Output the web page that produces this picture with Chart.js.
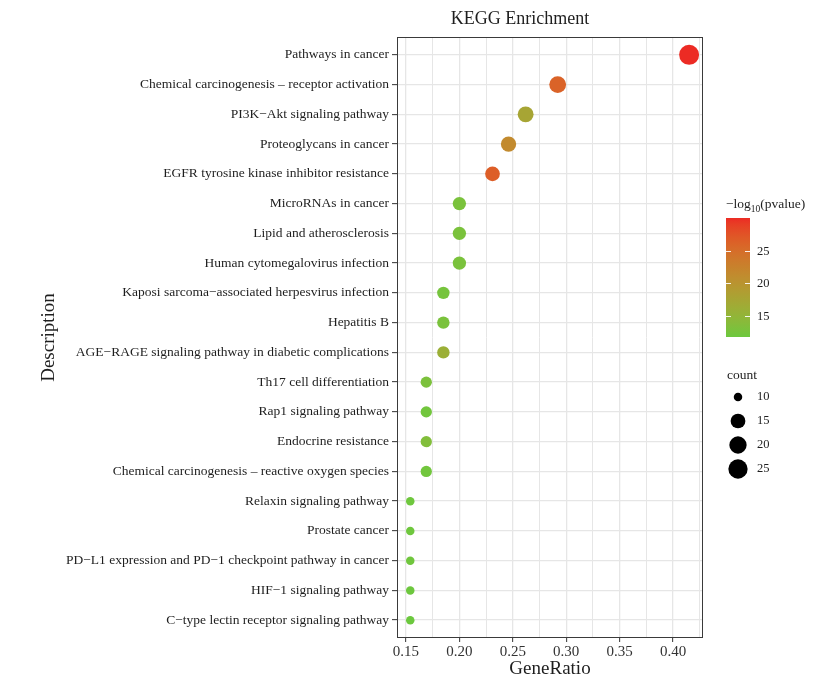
<!DOCTYPE html>
<html>
<head>
<meta charset="utf-8">
<title>KEGG Enrichment</title>
<script src="https://cdn.jsdelivr.net/npm/chart.js@4.4.1/dist/chart.umd.min.js"></script>
<style>
  html, body { margin: 0; padding: 0; background: #ffffff; }
  canvas { display: block; }
</style>
</head>
<body>
<canvas id="dotplot" width="837" height="680"></canvas>
<script>
// KEGG pathways, listed top to bottom
const descriptions = [
  "Pathways in cancer",
  "Chemical carcinogenesis \u2013 receptor activation",
  "PI3K\u2212Akt signaling pathway",
  "Proteoglycans in cancer",
  "EGFR tyrosine kinase inhibitor resistance",
  "MicroRNAs in cancer",
  "Lipid and atherosclerosis",
  "Human cytomegalovirus infection",
  "Kaposi sarcoma\u2212associated herpesvirus infection",
  "Hepatitis B",
  "AGE\u2212RAGE signaling pathway in diabetic complications",
  "Th17 cell differentiation",
  "Rap1 signaling pathway",
  "Endocrine resistance",
  "Chemical carcinogenesis \u2013 reactive oxygen species",
  "Relaxin signaling pathway",
  "Prostate cancer",
  "PD\u2212L1 expression and PD\u22121 checkpoint pathway in cancer",
  "HIF\u22121 signaling pathway",
  "C\u2212type lectin receptor signaling pathway"
];

const geneRatio = [0.415, 0.292, 0.262, 0.246, 0.231, 0.200, 0.200, 0.200, 0.185, 0.185,
                   0.185, 0.169, 0.169, 0.169, 0.169, 0.154, 0.154, 0.154, 0.154, 0.154];

const geneCount = [27, 19, 17, 16, 15, 13, 13, 13, 12, 12,
                   12, 11, 11, 11, 11, 10, 10, 10, 10, 10];

const negLog10P = [30.0, 26.0, 17.5, 21.5, 26.5, 12.8, 12.8, 12.8, 12.5, 12.8,
                   16.0, 13.0, 12.2, 13.5, 12.2, 12.0, 12.0, 12.1, 11.9, 11.8];

const xMajorTicks = [0.15, 0.20, 0.25, 0.30, 0.35, 0.40];
const xMinorTicks = [0.175, 0.225, 0.275, 0.325, 0.375, 0.425];
const colorbarTicks = [15, 20, 25];
const sizeLegendCounts = [10, 15, 20, 25];

const SERIF = "'Liberation Serif', 'DejaVu Serif', 'Times New Roman', serif";
const LOW_COLOR = "#6CC83E";
const HIGH_COLOR = "#EC2B24";
const TEXT_COLOR = "#1E1E1E";

// ---- colour scale (interpolated in CIE Lab) ----
function hexToRgb(h) { return [parseInt(h.slice(1, 3), 16), parseInt(h.slice(3, 5), 16), parseInt(h.slice(5, 7), 16)]; }
function srgbToLin(c) { c /= 255; return c <= 0.04045 ? c / 12.92 : Math.pow((c + 0.055) / 1.055, 2.4); }
function linToSrgb(c) {
  const v = c <= 0.0031308 ? 12.92 * c : 1.055 * Math.pow(c, 1 / 2.4) - 0.055;
  return Math.round(Math.max(0, Math.min(1, v)) * 255);
}
function rgbToLab(rgb) {
  const [r, g, b] = rgb.map(srgbToLin);
  const X = (0.4124 * r + 0.3576 * g + 0.1805 * b) / 0.95047;
  const Y = (0.2126 * r + 0.7152 * g + 0.0722 * b);
  const Z = (0.0193 * r + 0.1192 * g + 0.9505 * b) / 1.08883;
  const f = t => t > 0.008856 ? Math.cbrt(t) : 7.787 * t + 16 / 116;
  const fx = f(X), fy = f(Y), fz = f(Z);
  return [116 * fy - 16, 500 * (fx - fy), 200 * (fy - fz)];
}
function labToRgb(lab) {
  const [L, a, b] = lab;
  const fy = (L + 16) / 116, fx = fy + a / 500, fz = fy - b / 200;
  const fi = t => t * t * t > 0.008856 ? t * t * t : (t - 16 / 116) / 7.787;
  const X = fi(fx) * 0.95047, Y = fi(fy), Z = fi(fz) * 1.08883;
  const r = 3.2406 * X - 1.5372 * Y - 0.4986 * Z;
  const g = -0.9689 * X + 1.8758 * Y + 0.0415 * Z;
  const bb = 0.0557 * X - 0.2040 * Y + 1.0570 * Z;
  return [linToSrgb(r), linToSrgb(g), linToSrgb(bb)];
}
const LAB_LOW = rgbToLab(hexToRgb(LOW_COLOR));
const LAB_HIGH = rgbToLab(hexToRgb(HIGH_COLOR));
const pMin = Math.min(...negLog10P);
const pMax = Math.max(...negLog10P);
function colorAtFraction(t) {
  t = Math.max(0, Math.min(1, t));
  const lab = LAB_LOW.map((v, k) => v + (LAB_HIGH[k] - v) * t);
  const [r, g, b] = labToRgb(lab);
  return `rgb(${r},${g},${b})`;
}
function colorFor(v) { return colorAtFraction((v - pMin) / (pMax - pMin)); }

// ---- size scale: area proportional to count ----
const cMin = Math.min(...geneCount);
const cMax = Math.max(...geneCount);
const D_MIN = 8.5, D_MAX = 20;
function radiusFor(c) {
  const t = Math.max(0, (c - cMin) / (cMax - cMin));
  return (D_MIN + Math.sqrt(t) * (D_MAX - D_MIN)) / 2;
}

const isMajor = v => xMajorTicks.some(m => Math.abs(m - v) < 1e-9);

// panel border, title and the two legends
const decorations = {
  id: 'decorations',
  afterDraw(chart) {
    const { ctx, chartArea: a } = chart;
    ctx.save();

    // panel border
    ctx.strokeStyle = '#3a3a3a';
    ctx.lineWidth = 1;
    ctx.strokeRect(a.left + 0.5, a.top + 0.5, a.right - a.left - 1, a.bottom - a.top - 1);

    // plot title
    ctx.fillStyle = TEXT_COLOR;
    ctx.font = `18px ${SERIF}`;
    ctx.textAlign = 'center';
    ctx.textBaseline = 'middle';
    ctx.fillText('KEGG Enrichment', 520, 19);

    // colour bar legend
    const barX = 726, barW = 24, barTop = 218, barBottom = 337;
    ctx.textAlign = 'left';
    ctx.textBaseline = 'alphabetic';
    ctx.font = `13.5px ${SERIF}`;
    let tx = 726;
    const ty = 208;
    ctx.fillText('\u2212log', tx, ty);
    tx += ctx.measureText('\u2212log').width;
    ctx.font = `9.5px ${SERIF}`;
    ctx.fillText('10', tx, ty + 3.5);
    tx += ctx.measureText('10').width;
    ctx.font = `13.5px ${SERIF}`;
    ctx.fillText('(pvalue)', tx, ty);

    const grad = ctx.createLinearGradient(0, barBottom, 0, barTop);
    for (let i = 0; i <= 20; i++) grad.addColorStop(i / 20, colorAtFraction(i / 20));
    ctx.fillStyle = grad;
    ctx.fillRect(barX, barTop, barW, barBottom - barTop);

    const yOf = v => barBottom - (v - pMin) / (pMax - pMin) * (barBottom - barTop);
    ctx.strokeStyle = 'rgba(255,255,255,0.9)';
    ctx.lineWidth = 1;
    ctx.font = `12.5px ${SERIF}`;
    ctx.textBaseline = 'middle';
    colorbarTicks.forEach(v => {
      const y = Math.round(yOf(v)) + 0.5;
      ctx.beginPath();
      ctx.moveTo(barX, y); ctx.lineTo(barX + 5, y);
      ctx.moveTo(barX + barW - 5, y); ctx.lineTo(barX + barW, y);
      ctx.stroke();
      ctx.fillStyle = TEXT_COLOR;
      ctx.fillText(String(v), 757, y);
    });

    // size legend
    ctx.fillStyle = TEXT_COLOR;
    ctx.font = `13.5px ${SERIF}`;
    ctx.fillText('count', 727, 375);
    const keyY = [397, 421, 445, 469];
    sizeLegendCounts.forEach((c, i) => {
      ctx.fillStyle = '#000000';
      ctx.beginPath();
      ctx.arc(738, keyY[i], radiusFor(c), 0, Math.PI * 2);
      ctx.fill();
      ctx.fillStyle = TEXT_COLOR;
      ctx.font = `12.5px ${SERIF}`;
      ctx.fillText(String(c), 757, keyY[i]);
    });

    ctx.restore();
  }
};

new Chart(document.getElementById('dotplot'), {
  type: 'scatter',
  data: {
    datasets: [{
      label: 'GeneRatio',
      data: geneRatio.map((g, i) => ({ x: g, y: i })),
      pointRadius: ctx => radiusFor(geneCount[ctx.dataIndex]),
      pointHoverRadius: ctx => radiusFor(geneCount[ctx.dataIndex]),
      backgroundColor: ctx => colorFor(negLog10P[ctx.dataIndex]),
      borderWidth: 0,
      pointBorderWidth: 0
    }]
  },
  options: {
    responsive: false,
    animation: false,
    devicePixelRatio: 1,
    layout: { padding: { top: 37, right: 134, bottom: 0, left: 0 } },
    plugins: {
      legend: { display: false },
      tooltip: { enabled: false },
      title: { display: false }
    },
    scales: {
      x: {
        type: 'linear',
        min: 0.1416,
        max: 0.428,
        afterBuildTicks: scale => {
          scale.ticks = [...xMajorTicks, ...xMinorTicks].sort((p, q) => p - q).map(v => ({ value: v }));
        },
        afterFit: scale => { scale.height = 42; },
        ticks: {
          autoSkip: false,
          maxRotation: 0,
          padding: 1,
          color: '#333333',
          font: { family: SERIF, size: 15 },
          callback: v => isMajor(v) ? v.toFixed(2) : ''
        },
        grid: {
          color: '#E6E6E6',
          lineWidth: ctx => (ctx.tick && isMajor(ctx.tick.value)) ? 1.3 : 1,
          tickColor: ctx => (ctx.tick && isMajor(ctx.tick.value)) ? '#333333' : 'rgba(0,0,0,0)',
          tickLength: 4,
          tickWidth: 1
        },
        border: { display: false },
        title: {
          display: true,
          text: 'GeneRatio',
          color: TEXT_COLOR,
          font: { family: SERIF, size: 19 },
          padding: { top: 0, bottom: 0 }
        }
      },
      y: {
        type: 'linear',
        reverse: true,
        min: -0.6,
        max: descriptions.length - 1 + 0.6,
        afterBuildTicks: scale => {
          scale.ticks = descriptions.map((_, i) => ({ value: i }));
        },
        afterFit: scale => { scale.width = 397; },
        ticks: {
          autoSkip: false,
          padding: 3,
          color: TEXT_COLOR,
          font: { family: SERIF, size: 13.5 },
          callback: v => descriptions[v]
        },
        grid: {
          color: '#E6E6E6',
          lineWidth: 1.3,
          tickColor: '#333333',
          tickLength: 5,
          tickWidth: 1
        },
        border: { display: false },
        title: {
          display: true,
          text: 'Description',
          color: TEXT_COLOR,
          font: { family: SERIF, size: 19 },
          padding: { top: 37.6, bottom: 0 }
        }
      }
    }
  },
  plugins: [decorations]
});
</script>
</body>
</html>
